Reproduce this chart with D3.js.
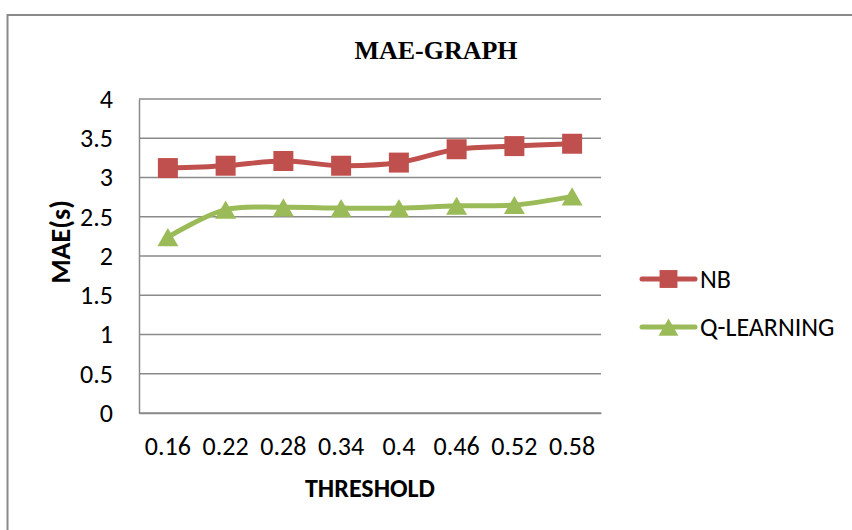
<!DOCTYPE html>
<html>
<head>
<meta charset="utf-8">
<script src="https://cdn.jsdelivr.net/npm/d3@7"></script>
<style>
  body { margin: 0; background: #fff; }
  svg { display: block; }
</style>
</head>
<body>
<svg id="chart" width="852" height="530"></svg>
<script>
const thresholds = ["0.16", "0.22", "0.28", "0.34", "0.4", "0.46", "0.52", "0.58"];
const nbValues = [3.12, 3.15, 3.21, 3.15, 3.19, 3.36, 3.40, 3.43];
const qValues = [2.24, 2.59, 2.62, 2.61, 2.61, 2.64, 2.65, 2.76];
const yTicks = [0, 0.5, 1, 1.5, 2, 2.5, 3, 3.5, 4];

const series = [
    { name: "NB", values: nbValues, color: "#C0504D", marker: "square" },
    { name: "Q-LEARNING", values: qValues, color: "#9BBB59", marker: "triangle" }
];

const svg = d3.select("#chart");
const width = 852, height = 530;
const margin = { top: 99, right: 251, bottom: 117, left: 139 };
const innerWidth = width - margin.left - margin.right;
const innerHeight = height - margin.top - margin.bottom;
const labelFont = "Calibri, Carlito, Lato, sans-serif";

// outer frame (runs off the right and bottom edges)
svg.append("rect")
    .attr("x", 7.5).attr("y", 15)
    .attr("width", 900).attr("height", 600)
    .attr("fill", "none")
    .attr("stroke", "#8a8a8a")
    .attr("stroke-width", 2);

svg.append("text")
    .attr("x", 436).attr("y", 59)
    .attr("text-anchor", "middle")
    .style("font-family", "'Times New Roman', 'Liberation Serif', serif")
    .style("font-weight", "bold")
    .style("font-size", "26px")
    .text("MAE-GRAPH");

const g = svg.append("g").attr("transform", `translate(${margin.left},${margin.top})`);

const x = d3.scaleBand().domain(thresholds).range([0, innerWidth]);
const y = d3.scaleLinear().domain([0, 4]).range([innerHeight, 0]);

// gridlines
g.selectAll(".grid")
    .data(yTicks)
    .enter().append("line")
    .attr("class", "grid")
    .attr("x1", 0).attr("x2", innerWidth)
    .attr("y1", d => y(d)).attr("y2", d => y(d))
    .attr("stroke", "#8a8a8a")
    .attr("stroke-width", 1.5);

// y axis
const yAxis = d3.axisLeft(y).tickValues(yTicks).tickSize(0).tickPadding(26).tickFormat(d => d);
const yAxisGroup = g.append("g").call(yAxis);
yAxisGroup.select(".domain").attr("stroke", "#8a8a8a").attr("stroke-width", 1.5);
yAxisGroup.selectAll("text")
    .style("font-family", labelFont)
    .style("font-size", "26px")
    .attr("fill", "#000");

// x axis
const xAxis = d3.axisBottom(x).tickSize(0).tickPadding(24);
const xAxisGroup = g.append("g").attr("transform", `translate(0,${innerHeight})`).call(xAxis);
xAxisGroup.select(".domain").attr("stroke", "#8a8a8a").attr("stroke-width", 1.5);
xAxisGroup.selectAll("text")
    .style("font-family", labelFont)
    .style("font-size", "26px")
    .attr("fill", "#000");

// axis titles
svg.append("text")
    .attr("x", 370).attr("y", 497)
    .attr("text-anchor", "middle")
    .style("font-family", labelFont)
    .style("font-weight", "bold")
    .style("font-size", "26px")
    .text("THRESHOLD");

svg.append("text")
    .attr("transform", "translate(70,242) rotate(-90)")
    .attr("text-anchor", "middle")
    .style("font-family", labelFont)
    .style("font-weight", "bold")
    .style("font-size", "28px")
    .text("MAE(s)");

const cx = d => x(d) + x.bandwidth() / 2;
const line = d3.line()
    .x(d => cx(d.t))
    .y(d => y(d.v))
    .curve(d3.curveCatmullRom.alpha(0.5));

const square = d3.symbol().type(d3.symbolSquare).size(400);
const triangle = d3.symbol().type(d3.symbolTriangle).size(190);
// d3 triangles sit on their centroid; shift down so the box is centred on the point
const triShift = Math.sqrt(190 / (Math.sqrt(3) * 3)) / 2;

series.forEach(s => {
    const pts = thresholds.map((t, i) => ({ t: t, v: s.values[i] }));
    g.append("path")
        .datum(pts)
        .attr("d", line)
        .attr("fill", "none")
        .attr("stroke", s.color)
        .attr("stroke-width", 5)
        .attr("stroke-linecap", "round");

    g.selectAll(".m-" + s.marker)
        .data(pts)
        .enter().append("path")
        .attr("class", "m-" + s.marker)
        .attr("transform", d => `translate(${cx(d.t)},${y(d.v) + (s.marker === "triangle" ? triShift : 0)})`)
        .attr("d", s.marker === "square" ? square : triangle)
        .attr("fill", s.color);
});

// legend
const legend = svg.selectAll(".legend")
    .data(series)
    .enter().append("g")
    .attr("class", "legend")
    .attr("transform", (d, i) => `translate(642,${279 + i * 48})`);

legend.append("line")
    .attr("x1", 0).attr("x2", 53)
    .attr("stroke", d => d.color)
    .attr("stroke-width", 5)
    .attr("stroke-linecap", "round");

legend.append("path")
    .attr("transform", d => `translate(26.5,${d.marker === "triangle" ? triShift : 0})`)
    .attr("d", d => d.marker === "square" ? square.size(320)() : triangle.size(170)())
    .attr("fill", d => d.color);

legend.append("text")
    .attr("x", 58).attr("y", 0)
    .attr("dy", "0.35em")
    .style("font-family", labelFont)
    .style("font-size", "26px")
    .text(d => d.name);
</script>
</body>
</html>
